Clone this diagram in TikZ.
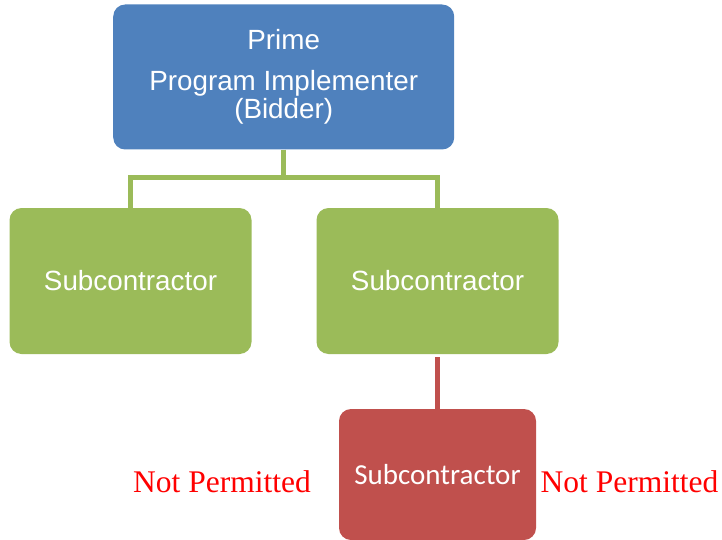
\documentclass[tikz,border=0pt]{standalone}
\usepackage{fontspec}
\setmainfont{Liberation Sans}
\newfontfamily\calibrifont{Carlito}
\newfontfamily\timesfont{Liberation Serif}
\usepackage{tikz}
\usetikzlibrary{
  calc,
  positioning
}
\definecolor{primeblue}{RGB}{79,129,189}
\definecolor{subgreen}{RGB}{155,187,89}
\definecolor{subred}{RGB}{192,80,77}
\tikzset{
  orgbox/.style={
    rectangle,
    rounded corners=12pt,
    inner sep=0pt,
    text=white,
    align=center
  }
}

\begin{document}
\begin{tikzpicture}[
  x=1pt, y=-1pt,
  primebox/.style={
    orgbox,
    fill=primeblue,
    minimum width=341pt,
    minimum height=145pt,
    font=\fontsize{27.8}{28}\selectfont
  },
  subbox/.style={
    orgbox,
    fill=subgreen,
    minimum width=242pt,
    minimum height=146pt,
    font=\fontsize{27.8}{28}\selectfont
  },
  badbox/.style={
    orgbox,
    fill=subred,
    minimum width=197pt,
    minimum height=131pt,
    font=\calibrifont\fontsize{29}{30}\selectfont
  },
  greenline/.style={
    draw=subgreen,
    line width=5pt,
    line join=miter
  },
  redline/.style={
    draw=subred,
    line width=5.3pt
  },
  notok/.style={
    inner sep=0pt,
    text=red,
    font=\timesfont\fontsize{31.5}{32}\selectfont
  }
]

  \useasboundingbox (0,0) rectangle (722,540);

  \node[primebox] (prime) at (283.7,77)
    {Prime\\[13pt]Program Implementer\\(Bidder)};

  \node[subbox] (sub1) at (130.5,281) {Subcontractor};
  \node[subbox] (sub2) at (437.5,281) {Subcontractor};

  \node[badbox] (sub3) at (437.5,474.5) {Subcontractor};

  % the two labels next to the red box
  \node[notok,anchor=base east] (np1) at (311,492) {Not Permitted};
  \node[notok,anchor=base west] (np2) at (540.5,492) {Not Permitted};

  \coordinate (fork) at ($(prime.south)+(0,28)$);

  \draw[greenline] (prime.south) -- (fork);
  \draw[greenline] (fork) -| ([yshift=-3pt]sub1.north);
  \draw[greenline] (fork) -| ([yshift=-3pt]sub2.north);

  \draw[redline,shorten <=3pt] (sub2.south) -- (sub3.north);

\end{tikzpicture}
\end{document}
